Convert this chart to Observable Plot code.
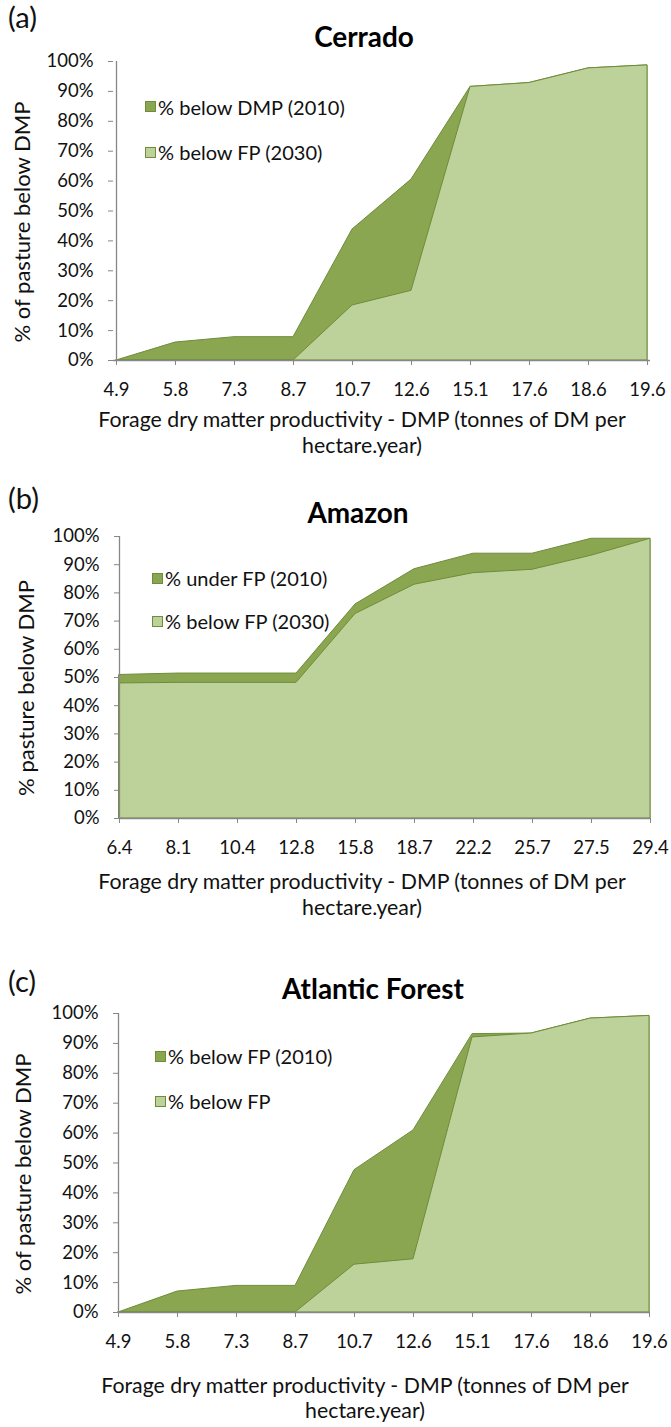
<!DOCTYPE html>
<html><head><meta charset="utf-8">
<script src="https://cdn.jsdelivr.net/npm/d3@7"></script>
<script src="https://cdn.jsdelivr.net/npm/@observablehq/plot@0.6"></script>
<style>
html,body{margin:0;padding:0;background:#fff;}
#root{position:relative;width:671px;height:1427px;overflow:hidden;font-family:Lato,sans-serif;color:#111;}
.abs{position:absolute;white-space:nowrap;line-height:1;}
.c{transform:translate(-50%,-50%);text-align:center;}
.sw{position:absolute;box-sizing:border-box;border:1px solid #6f8c3a;}
svg{position:absolute;left:0;overflow:visible;}
</style></head><body><div id="root"></div>
<script>
// ---- data ----
const cerradoDMP = ["4.9","5.8","7.3","8.7","10.7","12.6","15.1","17.6","18.6","19.6"];
const cerrado2010 = [0, 6, 7.8, 7.8, 43.8, 60.5, 91.5, 92.8, 97.7, 98.7];
const cerrado2030 = [0, 0, 0, 0, 18.4, 23.3, 91.5, 92.8, 97.7, 98.7];

const amazonDMP = ["6.4","8.1","10.4","12.8","15.8","18.7","22.2","25.7","27.5","29.4"];
const amazon2010 = [50.9, 51.4, 51.4, 51.4, 75.9, 88.4, 93.9, 93.9, 99.2, 99.2];
const amazon2030 = [47.9, 48.1, 48.1, 48.1, 72.5, 82.9, 87.0, 88.2, 93.2, 99.2];

const atlanticDMP = ["4.9","5.8","7.3","8.7","10.7","12.6","15.1","17.6","18.6","19.6"];
const atlantic2010 = [0, 7, 8.9, 8.9, 47.6, 60.9, 93.1, 93.3, 98.3, 99.2];
const atlantic2030 = [0, 0, 0, 0, 16.0, 17.8, 92.0, 93.3, 98.3, 99.2];

const yTicks = [0,10,20,30,40,50,60,70,80,90,100];

const panelLetters = ["(a)","(b)","(c)"];
const titles = ["Cerrado","Amazon","Atlantic Forest"];
const yTitles = ["% of pasture below DMP","% pasture below DMP","% of pasture below DMP"];
const legend2010 = ["% below DMP (2010)","% under FP (2010)","% below FP (2010)"];
const legend2030 = ["% below FP (2030)","% below FP (2030)","% below FP"];
const xTitle1 = "Forage dry matter productivity - DMP (tonnes of DM per";
const xTitle2 = "hectare.year)";

// ---- style ----
const DARK = "#8ba651", LIGHT = "#bdd29a", EDGE = "#6f8c3a", AXIS = "#878787", TEXT = "#111";

const ctx = document.createElement("canvas").getContext("2d");
function fit(text, target, weight = "normal") {
  ctx.font = `${weight} 100px Lato`;
  return 100 * target / ctx.measureText(text).width;
}
const tickPx = fit("100%", 47);
const legendPx = fit("% below DMP (2010)", 188);
const yTitlePx = fit("% of pasture below DMP", 242);
const xTitlePx = fit(xTitle1, 530);
const titlePx = fit("Atlantic Forest", 182, "bold");
const letterPx = fit("(a)", 29);

const layouts = [
  {left:113, right:650, top:61, bottom:360, letterY:17, titleX:364, titleY:37, yTitleX:22, legX:145, legY:[106.5,152], xt:[420,446], xtX:362},
  {left:119, right:650, top:536, bottom:818, letterY:498, titleX:358, titleY:513, yTitleX:26, legX:152, legY:[578,621], xt:[882,908], xtX:362},
  {left:118, right:649, top:1013, bottom:1312, letterY:981, titleX:373, titleY:989, yTitleX:23, legX:155, legY:[1056,1101], xt:[1386,1411], xtX:365}
];
const series = [
  [cerradoDMP, cerrado2010, cerrado2030],
  [amazonDMP, amazon2010, amazon2030],
  [atlanticDMP, atlantic2010, atlantic2030]
];

const root = document.getElementById("root");
function addText(txt, x, y, px, extra = "", cls = "abs c") {
  const d = document.createElement("div");
  d.className = cls;
  d.textContent = txt;
  d.style.cssText = `left:${x}px;top:${y}px;font-size:${px}px;${extra}`;
  root.appendChild(d);
  return d;
}

series.forEach(([dmp, s2010, s2030], i) => {
  const L = layouts[i];
  const rows = dmp.map((d, j) => ({dmp: d, v2010: s2010[j], v2030: s2030[j]}));
  const mt = 10, mb = 50;
  const svg = Plot.plot({
    width: 671,
    height: mt + (L.bottom - L.top) + mb,
    marginLeft: L.left, marginRight: 671 - L.right, marginTop: mt, marginBottom: mb,
    x: {type: "point", domain: dmp, padding: 0, label: null},
    y: {domain: [0, 100], label: null},
    style: {fontFamily: "Lato, sans-serif", fontSize: tickPx + "px", color: TEXT, background: "transparent"},
    marks: [
      Plot.areaY(rows, {x: "dmp", y: "v2010", fill: DARK, stroke: EDGE, strokeWidth: 1}),
      Plot.areaY(rows, {x: "dmp", y: "v2030", fill: LIGHT, stroke: EDGE, strokeWidth: 1}),
      Plot.ruleY([0], {stroke: AXIS, strokeWidth: 1.3}),
      Plot.ruleX([dmp[0]], {stroke: AXIS, strokeWidth: 1.3}),
      Plot.axisY(yTicks, {tickSize: 5, tickPadding: 15, stroke: AXIS, fill: TEXT, tickFormat: d => d + "%", label: null}),
      Plot.axisX({tickSize: 5, tickPadding: 17, stroke: AXIS, fill: TEXT, label: null})
    ]
  });
  svg.style.top = (L.top - mt) + "px";
  root.appendChild(svg);

  addText(panelLetters[i], 8, L.letterY, letterPx, "transform:translateY(-50%);", "abs");
  addText(titles[i], L.titleX, L.titleY, titlePx, "font-weight:bold;color:#000;");
  addText(yTitles[i], L.yTitleX, L.top + 0.54 * (L.bottom - L.top), yTitlePx,
    "transform:translate(-50%,-50%) rotate(-90deg);");
  addText(xTitle1, L.xtX, L.xt[0], xTitlePx);
  addText(xTitle2, L.xtX, L.xt[1], xTitlePx);
  [[legend2010[i], DARK], [legend2030[i], LIGHT]].forEach(([lab, col], k) => {
    const s = document.createElement("div");
    s.className = "sw";
    s.style.cssText = `left:${L.legX}px;top:${L.legY[k] - 5.5}px;width:11px;height:11px;background:${col};`;
    root.appendChild(s);
    addText(lab, L.legX + 13, L.legY[k], legendPx, "transform:translateY(-50%);", "abs");
  });
});
</script>
</body></html>
